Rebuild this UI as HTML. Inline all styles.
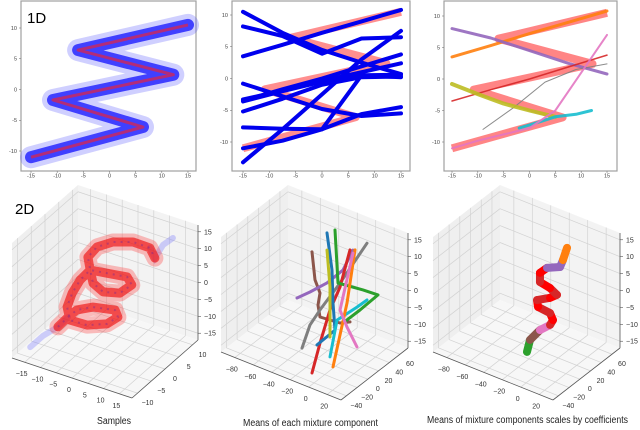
<!DOCTYPE html>
<html><head><meta charset="utf-8"><style>
body{margin:0;background:#fff;}
svg{display:block;font-family:"Liberation Sans",sans-serif;}
</style></head><body>
<svg id="fig" width="640" height="430" viewBox="0 0 640 430">
</svg>
<script>
// ---- 1D data ----
const zigX = [-15, 6.4, -10.8, 12.2, -6, 15];
const zigY = [-11, -6.1, -1.7, 2.4, 6.4, 10.5];
const xTicks1D = [-15, -10, -5, 0, 5, 10, 15];
const yTicks1D = [-10, -5, 0, 5, 10];
const lineXs = [-15, -7.5, 0, 7.5, 15];
const midLines = [
  [10.5, 7.2, 4.5, 2.5, 0.7],
  [8.2, 6.7, 3.9, 6.3, 6.5],
  [3.5, 5.3, 7.2, 9.0, 10.8],
  [-0.8, -2.8, -4.8, -5.9, -5.5],
  [-3.5, -1.7, 0, 1.9, 3.8],
  [-3.3, -1.9, -0.4, 1.0, 2.4],
  [-5.2, -3.2, -1.0, 0.2, 0.3],
  [-3.6, -2.0, -0.5, 0.5, 0.6],
  [-13.2, -8.0, -2.5, 3.0, 7.5],
  [-11, -9.8, -8.0, 0.5, 0.2],
  [-7.7, -7.9, -8.0, -5.6, -4.5]
];
const rightNames = ['orange','purple','red','gray','olive','cyan','pink'];
const rightColors = ['#ff7f0e','#9467bd','#d62728','#7f7f7f','#bcbd22','#17becf','#e377c2'];
const rightWidths = [3, 3, 1.5, 1, 4, 3, 2];
const rightXs = [
  [-15, -7.5, 0, 7.5, 15],
  [-15, -7.5, 0, 7.5, 15],
  [-15, -7.5, 0, 7.5, 15],
  [-9, -3, 3, 9, 15],
  [-15, -10, -5, 0, 5],
  [-2, 2, 5, 9, 12],
  [-15, -10, -5, 0, 5, 10, 15]
];
const rightYs = [
  [3.5, 5.3, 7.2, 9.0, 10.8],
  [8.0, 6.5, 4.5, 2.5, 0.8],
  [-3.5, -1.7, 0, 1.9, 3.8],
  [-8.0, -4.5, -0.5, 1.5, 2.4],
  [-0.8, -2.4, -3.9, -5.0, -6.0],
  [-7.8, -6.8, -6.0, -5.6, -5.0],
  [-11, -9.8, -8.8, -7.8, -5, 1, 7]
];
// ---- 2D / 3D data ----
const sampX = [-23.7,-19.6,-14.9,-11.7,-8.9,-3.8,3.2,4.1,0.6,-5.7,-11.1,-12,-10.4,-7.9,-4.7,0.6,7,8.5,4.7,-0.6,-3.8,-4.7,-5.4,-2.5,2.5,8.9,14.2,15.8,18.4,21.5];
const sampZ = [-23.8,-19.2,-15.1,-11.2,-8.2,-5.8,-4.5,-6.3,-9.4,-11.7,-11.9,-8.3,-3.7,0.9,4.9,5.6,6.5,4.6,1.0,-0.3,1.3,4.9,8.5,12.4,15.4,17.4,17.3,14.8,19.5,22.5];
const sampY = 0;
const compNames = ['brown','purple','gray','red','blue','cyan','olive','green','orange','pink'];
const compColors = ['#8c564b','#9467bd','#7f7f7f','#d62728','#1f77b4','#17becf','#bcbd22','#2ca02c','#ff7f0e','#e377c2'];
const compX = [
  [-32.7,-29.5,-24,-26.2,-24,-2.4,8.5],
  [-49,-34.9,-16.5,0.9,11.7],
  [-43.5,-34.9,-24,-2.4,26.9],
  [-32.7,-24,-13.2,-2.4,8.5],
  [-16.5,-11,-10,-7.8,-27.3],
  [-13.2,-5.6,16,26.9],
  [-16.5,-13.2,-13.2],
  [-7.8,-4.5,22.5,38.8,19.3,0.9],
  [13.9,5.2,-10],
  [11.7,-2.4,5.2,16]
];
const compZ = [
  [11.7,3.8,0.5,-3.3,-6.6,-6.0,-4.5],
  [-3.7,-0.4,4.3,10.0,17.1],
  [-17.9,-10.1,-4.5,5.8,20.8],
  [-24.1,-14.3,-3.3,4.6,16.8],
  [19.1,8.7,-0.9,-8.7,-15.2],
  [-17.2,-5.5,0.7,4.0],
  [14.0,3.5,-11.3],
  [20.9,5.6,6.5,6.8,0.2,-5.6],
  [17.4,0.7,-19.8],
  [16.2,-2.2,-6.4,-11.1]
];
const compY = 12.5;
const scaledX = [-29.5,-26.2,-15.4,-4.5,-1.3,-4.5,-17.5,-18.6,-4.5,3.0,-4.5,-15.4,-15.4,-7.8,6.3,9.5,13.9];
const scaledZ = [-17.5,-13.6,-9.5,-6.8,-5.0,-3.3,-2.9,-1.0,1.2,2.9,4.1,4.7,7.4,9.7,11.5,13.9,18.0];
const scaledSegColors = ['#2ca02c','#8c564b','#e377c2','#d62728','#f00','#d62728','#f00','#d62728','#f00','#d62728','#f00','#d62728','#f00','#9467bd','#9467bd','#ff7f0e'];
const ticks3dX1 = [-15,-10,-5,0,5,10,15];
const ticks3dY1 = [-10,-5,0,5,10];
const ticks3dZ = [-15,-10,-5,0,5,10,15];
const ticks3dX2 = [-80,-60,-40,-20,0,20];
const ticks3dY2 = [-40,-20,0,20,40,60];

const NS = 'http://www.w3.org/2000/svg';
const svg = document.getElementById('fig');
function mk(tag, attrs, parent) {
  const e = document.createElementNS(NS, tag);
  for (const k in attrs) e.setAttribute(k, attrs[k]);
  (parent || svg).appendChild(e);
  return e;
}
function ptsStr(arr) { return arr.map(p => p[0].toFixed(1) + ',' + p[1].toFixed(1)).join(' '); }

// ---- 1D panels ----
function panel1D(P) {
  const g = mk('g', {});
  
  
  const sx = x => P.ox + (x + 15) * P.kx;
  const sy = y => P.oy + (10 - y) * P.ky;
  const frame = mk('rect', {x: P.l, y: 1, width: P.r - P.l, height: 170, fill: '#fff', stroke: '#a0a0a0', 'stroke-width': 1.2}, g);
  
  
  xTicks1D.forEach(t => {
    const tx = mk('text', {x: sx(t), y: 177.5, 'font-size': 5.5, 'text-anchor': 'middle', fill: '#444'}, g);
    tx.textContent = t;
    
    
    mk('line', {x1: sx(t), x2: sx(t), y1: 171, y2: 173, stroke: '#666', 'stroke-width': 0.5}, g);
  });
  yTicks1D.forEach(t => {
    const tx = mk('text', {x: P.l - 4, y: sy(t) + 1.8, 'font-size': 5.5, 'text-anchor': 'end', fill: '#444'}, g);
    tx.textContent = t;
    
    
    mk('line', {x1: P.l - 2, x2: P.l, y1: sy(t), y2: sy(t), stroke: '#666', 'stroke-width': 0.5}, g);
  });
  const zig = zigX.map((x, i) => [sx(x), sy(zigY[i])]);
  return {g, sx, sy, zig};
}
// left
(function(){
  const p = panel1D({name:'samples-1d-panel', l:21, r:196, ox:31, oy:28, kx:5.233, ky:6.15});
  const b1 = mk('polyline', {points: ptsStr(p.zig), fill:'none', stroke:'#4040ff', 'stroke-opacity':0.25, 'stroke-width':22, 'stroke-linejoin':'round', 'stroke-linecap':'round'}, p.g);
  
  
  const b2 = mk('polyline', {points: ptsStr(p.zig), fill:'none', stroke:'#1010ff', 'stroke-opacity':0.75, 'stroke-width':12, 'stroke-linejoin':'round', 'stroke-linecap':'round'}, p.g);
  
  
  const r = mk('polyline', {points: ptsStr(p.zig), fill:'none', stroke:'#ff2020', 'stroke-opacity':0.6, 'stroke-width':3, 'stroke-linejoin':'round'}, p.g);
  
  
})();
// middle
(function(){
  const p = panel1D({name:'components-1d-panel', l:232, r:410, ox:243, oy:15, kx:5.267, ky:6.35});
  const r = mk('polyline', {points: ptsStr(p.zig), fill:'none', stroke:'#ff2020', 'stroke-opacity':0.5, 'stroke-width':8, 'stroke-linejoin':'round'}, p.g);
  
  
  midLines.forEach((ys, i) => {
    const l = mk('polyline', {points: ptsStr(lineXs.map((x, j) => [p.sx(x), p.sy(ys[j])])), fill:'none', stroke:'#0000ee', 'stroke-width':4, 'stroke-linejoin':'round', 'stroke-linecap':'round'}, p.g);
    
    
  });
})();
// right
(function(){
  const p = panel1D({name:'scaled-1d-panel', l:444, r:617, ox:452, oy:16, kx:5.167, ky:6.3});
  const r = mk('polyline', {points: ptsStr(p.zig), fill:'none', stroke:'#ff2020', 'stroke-opacity':0.55, 'stroke-width':8, 'stroke-linejoin':'round'}, p.g);
  
  
  rightYs.forEach((ys, i) => {
    const l = mk('polyline', {points: ptsStr(rightXs[i].map((x, j) => [p.sx(x), p.sy(ys[j])])), fill:'none', stroke: rightColors[i], 'stroke-width': rightWidths[i], 'stroke-linejoin':'round', 'stroke-linecap':'round', 'stroke-opacity':0.9}, p.g);
    
    
  });
})();

// ---- 3D panels ----
function panel3D(P) {
  const g = mk('g', {});
  
  
  const pr = (x, y, z) => {
    const u = (x - P.x0) / (P.x1 - P.x0), v = (y - P.y0) / (P.y1 - P.y0), w = (z - P.z0) / (P.z1 - P.z0);
    return [P.L[0] + u * P.ex[0] + v * P.ey[0], P.L[1] + u * P.ex[1] + v * P.ey[1] - w * P.h];
  };
  const {x0, x1, y0, y1, z0, z1} = P;
  const poly = (pts, fill, nm) => {
    const e = mk('polygon', {points: ptsStr(pts), fill: fill, stroke: 'none'}, g);
    
    
  };
  poly([pr(x0,y0,z0), pr(x0,y1,z0), pr(x0,y1,z1), pr(x0,y0,z1)], '#efefef', 'left-pane');
  poly([pr(x0,y1,z0), pr(x1,y1,z0), pr(x1,y1,z1), pr(x0,y1,z1)], '#f3f3f3', 'back-pane');
  poly([pr(x0,y0,z0), pr(x1,y0,z0), pr(x1,y1,z0), pr(x0,y1,z0)], '#f7f7f7', 'floor-pane');
  const gl = (a, b) => mk('line', {x1: a[0], y1: a[1], x2: b[0], y2: b[1], stroke: '#d2d2d2', 'stroke-width': 0.7}, g);
  P.xt.forEach(t => { gl(pr(t,y0,z0), pr(t,y1,z0)); gl(pr(t,y1,z0), pr(t,y1,z1)); });
  P.yt.forEach(t => { gl(pr(x0,t,z0), pr(x1,t,z0)); gl(pr(x0,t,z0), pr(x0,t,z1)); });
  ticks3dZ.forEach(t => { gl(pr(x0,y0,t), pr(x0,y1,t)); gl(pr(x0,y1,t), pr(x1,y1,t)); });
  const al = (a, b) => mk('line', {x1: a[0], y1: a[1], x2: b[0], y2: b[1], stroke: '#555', 'stroke-width': 0.8}, g);
  al(pr(x0,y0,z0), pr(x1,y0,z0));
  al(pr(x1,y0,z0), pr(x1,y1,z0));
  al(pr(x1,y1,z0), pr(x1,y1,z1));
  P.xt.forEach(t => {
    const q = pr(t, y0, z0);
    const tx = mk('text', {x: q[0] - 3, y: q[1] + 14, 'font-size': 7, 'text-anchor': 'middle', fill: '#333'}, g);
    tx.textContent = t < 0 ? '\u2212' + (-t) : t;
    
    
  });
  P.yt.forEach(t => {
    const q = pr(x1, t, z0);
    const tx = mk('text', {x: q[0] + 10, y: q[1] + 12, 'font-size': 7, 'text-anchor': 'middle', fill: '#333'}, g);
    tx.textContent = t < 0 ? '\u2212' + (-t) : t;
    
    
  });
  ticks3dZ.forEach(t => {
    const q = pr(x1, y1, t);
    const tx = mk('text', {x: q[0] + 6, y: q[1] + 2.5, 'font-size': 7, 'text-anchor': 'start', fill: '#333'}, g);
    tx.textContent = t < 0 ? '\u2212' + (-t) : t;
    
    
    mk('line', {x1: q[0], y1: q[1], x2: q[0] + 3, y2: q[1], stroke: '#555', 'stroke-width': 0.6}, g);
  });
  return {g, pr};
}
// panel 1
(function(){
  const p = panel3D({name:'samples-2d-panel', L:[12,358], ex:[120,40], ey:[66,-58], h:115, x0:-19, x1:19, y0:-12, y1:12, z0:-17, z1:17, xt: ticks3dX1, yt: ticks3dY1});
  const pts = sampX.map((x, i) => p.pr(x, sampY, sampZ[i]));
  const tailA = pts.slice(0, 4), tailB = pts.slice(26), core = pts.slice(2, 28);
  [tailA, tailB].forEach((t, k) => {
    const e = mk('polyline', {points: ptsStr(t), fill:'none', stroke:'#6a6aff', 'stroke-opacity':0.3, 'stroke-width':6, 'stroke-linecap':'round'}, p.g);
    
    
  });
  const c1 = mk('polyline', {points: ptsStr(core), fill:'none', stroke:'#ff3030', 'stroke-opacity':0.3, 'stroke-width':17, 'stroke-linejoin':'round', 'stroke-linecap':'round'}, p.g);
  
  
  const c2 = mk('polyline', {points: ptsStr(core), fill:'none', stroke:'#ee1010', 'stroke-opacity':0.65, 'stroke-width':9, 'stroke-linejoin':'round', 'stroke-linecap':'round'}, p.g);
  
  
  const c3 = mk('polyline', {points: ptsStr(core), fill:'none', stroke:'#6020a0', 'stroke-opacity':0.35, 'stroke-width':2, 'stroke-dasharray':'2 5', 'stroke-linejoin':'round'}, p.g);
  
  
})();
// panel 2
(function(){
  const p = panel3D({name:'components-2d-panel', L:[221,352], ex:[120,48], ey:[67,-52], h:115, x0:-95, x1:35, y0:-50, y1:75, z0:-17, z1:17, xt: ticks3dX2, yt: ticks3dY2});
  compX.forEach((xs, i) => {
    const e = mk('polyline', {points: ptsStr(xs.map((x, j) => p.pr(x, compY, compZ[i][j]))), fill:'none', stroke: compColors[i], 'stroke-width':3, 'stroke-linejoin':'round', 'stroke-linecap':'round'}, p.g);
    
    
  });
})();
// panel 3
(function(){
  const p = panel3D({name:'scaled-2d-panel', L:[433,352], ex:[120,48], ey:[67,-52], h:115, x0:-95, x1:35, y0:-50, y1:75, z0:-17, z1:17, xt: ticks3dX2, yt: ticks3dY2});
  const pts = scaledX.map((x, i) => p.pr(x, compY, scaledZ[i]));
  for (let i = 0; i < pts.length - 1; i++) {
    const e = mk('line', {x1: pts[i][0], y1: pts[i][1], x2: pts[i+1][0], y2: pts[i+1][1], stroke: scaledSegColors[i], 'stroke-width':8, 'stroke-linecap':'round'}, p.g);
    
    
  }
})();

// ---- labels & captions (drawn last so they sit on top) ----
function label(txt, attrs, nm) {
  const t = mk('text', attrs);
  t.textContent = txt;
  
  
}
label('1D', {x: 27, y: 23, 'font-size': 15}, 'label-1d');
label('2D', {x: 15, y: 214, 'font-size': 15}, 'label-2d');
label('Samples', {x: 97, y: 424, 'font-size': 10, fill: '#222', textLength: 34, lengthAdjust: 'spacingAndGlyphs'}, 'caption-samples');
label('Means of each mixture component', {x: 243, y: 426, 'font-size': 10, fill: '#222', textLength: 135, lengthAdjust: 'spacingAndGlyphs'}, 'caption-means');
label('Means of mixture components scales by coefficients', {x: 427, y: 423, 'font-size': 10, fill: '#222', textLength: 201, lengthAdjust: 'spacingAndGlyphs'}, 'caption-scaled-means');
</script>
</body></html>
